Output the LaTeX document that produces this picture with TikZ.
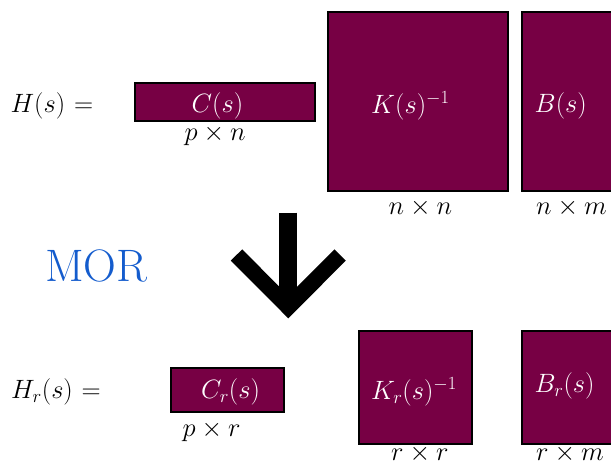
\RequirePackage{fix-cm}
\documentclass[tikz,border=0pt]{standalone}
\usepackage{amsmath}
\definecolor{matfill}{RGB}{119,0,68}
\definecolor{morblue}{RGB}{20,92,205}
\tikzset{
  mat/.style={draw=black, line width=1.2pt, fill=matfill},
  lbl/.style={inner sep=0pt, anchor=base west, font=\fontsize{26.5}{30}\selectfont},
  intxt/.style={lbl, text=white},
}
\begin{document}
\begin{tikzpicture}[x=1pt,y=1pt]
\useasboundingbox (0,0) rectangle (611,465);
\clip (0,0) rectangle (611,465);
% top row boxes
\path[mat] (135,344) rectangle (315,382);
\path[mat] (328,274) rectangle (508,453);
\path[mat] (522,274) rectangle (702,453);
% bottom row boxes
\path[mat] (171,53) rectangle (284,97);
\path[mat] (359,21) rectangle (472,134);
\path[mat] (522,21) rectangle (635,134);
% top row texts
\node[lbl] (H) at (10.5,352) {$H(s) \mkern1mu=$};
\node[intxt] (C) at (191.5,352) {$C(s)$};
\node[lbl] (pn) at (184.5,324) {$p \times n$};
\node[intxt] (K) at (371,351.7) {$K(s)^{-1}$};
\node[lbl] (nn) at (388.5,250) {$n \times n$};
\node[intxt] (B) at (534.5,352.5) {$B(s)$};
\node[lbl] (nm) at (536,250) {$n \times m$};
% MOR
\node[inner sep=0pt, anchor=base west, text=morblue, font=\fontsize{45.5}{50}\selectfont] (mor) at (45,183.3) {MOR};
% arrow
\coordinate (stemtop) at (288.3,252.3);
\coordinate (tip) at (288.3,158);
\coordinate (armL) at (236.5,210);
\coordinate (armR) at (340.1,210);
\draw[line width=18pt] (stemtop) -- (tip);
\draw[line width=16pt, miter limit=10, line join=miter] (armL) -- (tip) -- (armR);
% bottom row texts
\node[lbl] (Hr) at (11,66) {$H_r(s) \mkern1mu=$};
\node[intxt] (Cr) at (201,66) {$C_r(s)$};
\node[lbl] (pr) at (182.5,28.3) {$p \times r$};
\node[intxt] (Kr) at (371,65.7) {$K_r(s)^{-1}$};
\node[lbl] (rr) at (391,4) {$r \times r$};
\node[intxt] (Br) at (534.5,72) {$B_r(s)$};
\node[lbl] (rm) at (536,4) {$r \times m$};
\end{tikzpicture}
\end{document}
